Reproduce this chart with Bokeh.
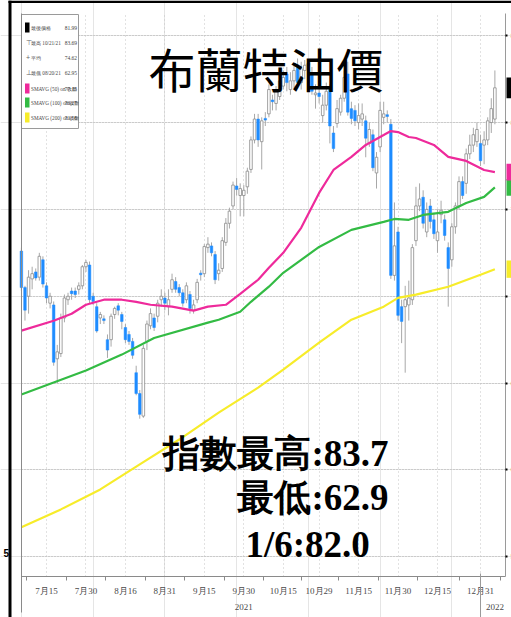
import pandas as pd
from bokeh.plotting import figure
from bokeh.models import (Range1d, LinearAxis, FixedTicker, Span, Grid,
                          ColumnDataSource)
from bokeh.core.properties import value
from bokeh.embed import file_html
from bokeh.resources import INLINE

# ---------------- data ----------------
dates = [d.strftime("%Y-%m-%d") for d in pd.bdate_range("2021-07-06", "2022-01-06")]

opens = [72.6, 70.5, 70.0, 71.0, 71.4, 71.1, 72.1, 70.6, 69.6, 69.5,
         66.4, 66.7, 68.75, 69.8, 70.3, 70.3, 70.4, 70.6, 71.7, 71.8,
         70.0, 69.4, 68.75, 68.7, 67.5, 67.5, 68.95, 69.45, 68.95, 68.2,
         67.8, 67.4, 65.6, 64.4, 63.1, 67.4, 68.3, 68.75, 68.85, 69.8,
         69.9, 69.4, 70.4, 70.85, 70.5, 70.2, 69.8, 70.1, 69.2, 69.8,
         71.33, 71.3, 72.8, 72.9, 72.4, 71.3, 71.6, 73.1, 74.2, 75.2,
         76.35, 75.8, 75.8, 76.3, 77.3, 79.0, 80.2, 78.9, 80.24, 80.5,
         81.3, 81.1, 81.5, 82.1, 82.8, 81.9, 82.4, 83.3, 82.3, 83.0,
         83.3, 82.8, 81.6, 81.7, 80.4, 81.0, 81.9, 79.4, 79.95, 80.6,
         81.4, 82.8, 80.8, 80.7, 80.0, 80.2, 80.1, 78.8, 79.3, 77.1,
         78.6, 80.3, 80.45, 79.9, 71.2, 73.7, 69.4, 69.4, 69.5, 69.8,
         73.2, 75.2, 75.7, 73.7, 75.2, 74.4, 73.2, 74.7, 74.4, 72.8,
         72.1, 74.0, 75.2, 76.6, 76.5, 78.2, 78.7, 78.9, 78.8, 78.7,
         79.0, 80.0, 80.2]
highs = [72.8, 70.6, 71.5, 71.7, 71.6, 72.5, 72.3, 70.8, 70.2, 69.7,
         67.2, 69.0, 70.1, 70.2, 70.5, 70.5, 70.8, 71.8, 72.1, 72.0,
         70.2, 69.6, 69.1, 68.9, 67.8, 69.0, 69.4, 69.6, 69.1, 68.4,
         68.0, 67.6, 66.0, 64.6, 67.2, 68.6, 69.3, 69.0, 69.8, 70.4,
         70.2, 70.4, 71.3, 71.1, 70.7, 70.4, 70.8, 70.3, 69.8, 71.0,
         71.5, 73.0, 73.4, 73.1, 72.6, 71.9, 73.4, 74.5, 75.1, 76.6,
         76.8, 76.5, 76.4, 77.4, 79.2, 80.5, 80.5, 80.3, 80.6, 82.2,
         81.6, 82.1, 82.7, 83.0, 83.2, 82.9, 83.3, 83.69, 83.5, 83.6,
         83.6, 83.2, 82.2, 82.4, 81.6, 82.3, 82.2, 79.8, 81.3, 81.6,
         83.0, 83.5, 81.2, 81.0, 81.1, 81.1, 80.4, 80.0, 79.6, 78.3,
         81.2, 81.2, 80.7, 80.2, 75.4, 74.0, 69.8, 70.6, 70.9, 73.0,
         76.3, 76.5, 76.1, 75.4, 75.6, 74.8, 75.0, 75.5, 74.7, 73.1,
         74.2, 75.4, 76.9, 76.9, 78.5, 79.3, 79.7, 80.0, 79.3, 79.5,
         80.3, 81.4, 83.0]
lows = [70.3, 68.6, 69.0, 70.4, 70.9, 70.9, 70.5, 69.6, 69.3, 66.0,
        65.0, 66.5, 68.5, 69.5, 69.8, 69.9, 70.1, 70.4, 71.4, 69.6,
        69.5, 67.9, 68.4, 68.4, 66.45, 67.1, 68.7, 68.9, 68.1, 67.3,
        67.2, 66.4, 64.3, 62.95, 63.0, 66.9, 68.1, 68.0, 68.5, 69.4,
        69.2, 68.9, 70.2, 70.2, 70.0, 69.4, 69.6, 69.0, 69.0, 69.6,
        70.9, 71.1, 72.5, 72.3, 70.7, 70.9, 71.4, 72.9, 73.9, 75.0,
        75.8, 74.6, 74.6, 75.9, 77.1, 78.8, 78.6, 77.3, 79.8, 80.3,
        80.7, 80.7, 81.3, 81.9, 81.8, 81.6, 82.0, 82.0, 81.9, 82.5,
        82.8, 81.6, 80.8, 81.1, 80.0, 80.7, 78.8, 78.3, 79.7, 80.4,
        81.2, 80.4, 79.9, 79.8, 79.6, 79.8, 78.0, 78.6, 77.2, 76.2,
        78.3, 79.9, 80.0, 71.0, 70.9, 68.6, 67.3, 65.6, 68.6, 69.5,
        72.9, 74.9, 73.9, 73.4, 73.9, 73.3, 72.5, 74.2, 73.2, 69.4,
        71.7, 73.6, 75.0, 75.6, 75.9, 77.9, 78.3, 78.6, 77.5, 77.6,
        78.7, 79.4, 79.9]
closes = [70.5, 69.2, 71.1, 71.3, 71.05, 72.3, 70.7, 69.9, 70.0, 66.2,
          66.8, 68.75, 69.9, 70.0, 70.15, 70.1, 70.6, 71.7, 71.95, 69.8,
          69.7, 68.0, 68.95, 68.6, 66.9, 68.85, 69.3, 69.2, 68.55, 67.5,
          67.4, 66.6, 64.4, 63.2, 67.0, 68.4, 69.0, 68.2, 69.6, 70.0,
          69.6, 69.8, 70.95, 70.4, 70.2, 69.6, 70.6, 69.3, 69.5, 70.8,
          71.24, 72.86, 73.0, 72.5, 70.95, 71.5, 73.2, 74.2, 74.9, 76.4,
          76.15, 76.2, 76.1, 77.2, 79.0, 80.2, 79.0, 80.1, 80.14, 81.9,
          81.2, 81.8, 82.4, 82.6, 82.3, 82.4, 83.0, 82.3, 83.1, 83.3,
          83.4, 81.8, 81.7, 81.5, 81.0, 81.8, 79.8, 78.5, 80.8, 81.4,
          82.6, 80.6, 80.24, 80.1, 80.4, 80.5, 79.1, 79.6, 77.4, 78.0,
          80.7, 80.5, 80.35, 71.2, 72.9, 68.9, 68.55, 69.8, 69.9, 72.8,
          75.2, 75.6, 74.2, 75.0, 74.3, 73.6, 73.7, 74.95, 73.5, 71.6,
          74.0, 75.2, 76.6, 75.8, 78.2, 78.7, 79.3, 79.6, 77.8, 79.0,
          80.1, 80.8, 82.0]

ma50_dates = ["2021-07-06", "2021-07-19", "2021-07-26", "2021-07-30", "2021-08-06",
              "2021-08-13", "2021-08-19", "2021-08-25", "2021-09-02", "2021-09-10",
              "2021-09-16", "2021-09-23", "2021-09-29", "2021-10-06", "2021-10-11",
              "2021-10-15", "2021-10-22", "2021-10-29", "2021-11-04", "2021-11-11",
              "2021-11-17", "2021-11-24", "2021-11-26", "2021-11-30", "2021-12-03",
              "2021-12-07", "2021-12-14", "2021-12-20", "2021-12-27", "2022-01-03",
              "2022-01-06"]
ma50_vals = [68.02, 68.59, 68.99, 69.51, 69.80, 69.80, 69.68, 69.51, 69.40, 69.17,
             69.40, 69.51, 70.14, 70.95, 71.64, 72.50, 73.94, 75.95, 77.27, 78.02,
             78.71, 79.28, 79.51, 79.45, 79.17, 79.11, 78.71, 78.02, 77.79, 77.27,
             77.15]

ma100_dates = ["2021-07-06", "2021-07-19", "2021-07-30", "2021-08-13", "2021-08-26",
               "2021-09-16", "2021-09-21", "2021-09-29", "2021-10-04", "2021-10-11",
               "2021-10-15", "2021-10-29", "2021-11-11", "2021-11-24", "2021-11-29",
               "2021-12-03", "2021-12-09", "2021-12-20", "2021-12-27", "2022-01-03",
               "2022-01-06"]
ma100_vals = [64.34, 65.03, 65.72, 66.64, 67.60, 68.48, 68.65, 69.11, 69.68, 70.55,
              71.35, 72.84, 73.82, 74.28, 74.45, 74.40, 74.68, 74.86, 75.37, 75.72,
              76.27]

ma200_dates = ["2021-07-06", "2021-07-21", "2021-08-05", "2021-08-20", "2021-09-06",
               "2021-09-21", "2021-10-06", "2021-10-15", "2021-10-29", "2021-11-11",
               "2021-11-24", "2021-11-30", "2021-12-07", "2021-12-20", "2021-12-31",
               "2022-01-06"]
ma200_vals = [56.70, 57.73, 58.88, 60.32, 61.75, 63.30, 64.74, 65.78, 67.33, 68.65,
              69.40, 69.91, 70.09, 70.55, 71.24, 71.56]

tick_dates = ["2021-07-15", "2021-07-30", "2021-08-16", "2021-08-31", "2021-09-15",
              "2021-09-30", "2021-10-15", "2021-10-29", "2021-11-15", "2021-11-30",
              "2021-12-15", "2021-12-31"]
tick_labels = ["7月15", "7月30", "8月16", "8月31", "9月15", "9月30", "10月15",
               "10月29", "11月15", "11月30", "12月15", "12月31"]
year_dates = ["2021-09-30", "2022-01-06"]
year_labels = ["2021", "2022"]
y_ticks = [55, 60, 65, 70, 75, 80, 85]

legend_labels = ["最後價格", "最高 10/21/21", "平均", "最低 08/20/21",
                 "SMAVG (50) on 收盤", "SMAVG (100) on 收盤", "SMAVG (200) on 收盤"]
legend_values = ["81.99", "83.69", "74.62", "62.95", "77.15", "76.27", "71.56"]

title_text = "布蘭特油價"
note_lines = ["指數最高:83.7", "最低:62.9", "1/6:82.0"]

# ---------------- geometry (page pixels -> data) ----------------
X_FIRST, DX = 20.891, 3.587          # page x of first candle, px per weekday
Y85, DY = 35.2, 17.37                # page y of the 85 line, px per unit
W, H = 511, 617


def ix(px):
    return (px - X_FIRST) / DX


def vy(py):
    return 85.0 - (py - Y85) / DY


MAGENTA, GREEN, YELLOW, BLUE = "#ee2a9b", "#33bb44", "#f7ec2a", "#1e8cff"
GREY = "#8a8a8a"
NARROW = "Liberation Sans Narrow"

p = figure(width=W, height=H, x_range=Range1d(ix(0), ix(W)),
           y_range=Range1d(vy(H), vy(0)), toolbar_location=None,
           output_backend="svg", title=None, min_border=0,
           x_axis_location=None, y_axis_location=None,
           outline_line_color=None, background_fill_color="white",
           border_fill_color="white")

pos = {d: k for k, d in enumerate(dates)}
tick_pos = [pos[d] for d in tick_dates]
minor = [tick_pos[0] - 5.5] + [(a + b) / 2 for a, b in zip(tick_pos[:-1], tick_pos[1:])] + [tick_pos[-1] + 5.5]

plot_left, plot_right = ix(20.5), ix(505)
plot_bottom, plot_top = vy(576), vy(13)

has_cb = "cross_bounds" in Grid.properties()
gkw_h = dict(cross_bounds=(plot_left, plot_right)) if has_cb else {}
gkw_v = dict(cross_bounds=(plot_bottom, plot_top)) if has_cb else {}
p.add_layout(Grid(dimension=1, ticker=FixedTicker(ticks=y_ticks), grid_line_color="#b0b0b0",
                  grid_line_dash="1 2", grid_line_width=1, **gkw_h))
p.add_layout(Grid(dimension=0, ticker=FixedTicker(ticks=tick_pos), grid_line_color="#c4c4c4",
                  grid_line_dash="1 3", grid_line_width=1, **gkw_v))

# bottom date axis
xa = LinearAxis(fixed_location=plot_bottom, bounds=(plot_left, plot_right),
                ticker=FixedTicker(ticks=tick_pos, minor_ticks=minor),
                major_label_overrides={k: s for k, s in zip(tick_pos, tick_labels)},
                axis_line_color=GREY, major_tick_in=0, major_tick_out=0,
                minor_tick_in=0, minor_tick_out=4, minor_tick_line_color=GREY,
                major_label_text_font=NARROW,
                major_label_text_font_size="9px", major_label_text_color="#4a4a4a",
                major_label_standoff=5)
p.add_layout(xa, "below")

year_pos = [pos[d] for d in year_dates]
ya_year = LinearAxis(fixed_location=plot_bottom, ticker=FixedTicker(ticks=year_pos),
                     major_label_overrides={k: s for k, s in zip(year_pos, year_labels)},
                     axis_line_color=None, major_tick_line_color=None,
                     minor_tick_line_color=None,
                     major_label_text_font=NARROW,
                     major_label_text_font_size="9px", major_label_text_color="#4a4a4a",
                     major_label_standoff=21)
p.add_layout(ya_year, "below")

sep = pos[tick_dates[-1]]
sep_axis = LinearAxis(fixed_location=vy(573), ticker=FixedTicker(ticks=[sep]),
                      major_label_overrides={sep: ""}, axis_line_color=None,
                      major_tick_in=0, major_tick_out=44, major_tick_line_color="#9a9a9a",
                      minor_tick_line_color=None)
p.add_layout(sep_axis, "below")

# left frame line
la = LinearAxis(fixed_location=plot_left, bounds=(vy(612), plot_top),
                ticker=FixedTicker(ticks=[]), axis_line_color=GREY)
p.add_layout(la, "left")

# right price axis (its labels run off the right edge, as in the source)
ra = LinearAxis(fixed_location=plot_right, bounds=(plot_bottom, plot_top),
                ticker=FixedTicker(ticks=y_ticks), axis_line_color="#9a9a9a",
                major_tick_in=0, major_tick_out=2, major_tick_line_color="black",
                major_tick_line_width=2, minor_tick_line_color=None,
                major_label_text_font_size="8px", major_label_text_color="#555555",
                major_label_standoff=3)
p.add_layout(ra, "right")

# black page border (left bar + top rule)
p.add_layout(Span(location=ix(9.5), dimension="height", line_color="black", line_width=3))
p.quad(left=[ix(8)], right=[ix(W)], top=[vy(0)], bottom=[vy(2.5)],
       fill_color="black", line_color=None)
p.text(x=[ix(8.5)], y=[vy(556)], text=["5"], text_font_size=value("10px"),
       text_color="black", text_align="right", text_font_style="bold")

# ---------------- candles ----------------
src = ColumnDataSource(dict(x=list(range(len(dates))), high=highs, low=lows))
up = dict(x=[], top=[], bottom=[])
dn = dict(x=[], top=[], bottom=[])
for k, (o, c) in enumerate(zip(opens, closes)):
    d = up if c >= o else dn
    d["x"].append(k)
    d["top"].append(max(o, c))
    d["bottom"].append(min(o, c))

p.segment(x0="x", y0="high", x1="x", y1="low", source=src, line_color="#a8a8a8", line_width=1)
p.vbar(x="x", width=0.72, top="top", bottom="bottom", source=ColumnDataSource(up),
       fill_color="white", line_color="#8c8c8c", line_width=0.8)
p.vbar(x="x", width=0.72, top="top", bottom="bottom", source=ColumnDataSource(dn),
       fill_color=BLUE, line_color=BLUE, line_width=0.5)

# ---------------- moving averages ----------------
for ds, vs, col in [(ma200_dates, ma200_vals, YELLOW), (ma100_dates, ma100_vals, GREEN),
                    (ma50_dates, ma50_vals, MAGENTA)]:
    p.line(x=[pos[d] for d in ds], y=vs, line_color=col, line_width=2.2)

# right-edge value tags
tag_vals = [ma200_vals[-1], ma100_vals[-1], ma50_vals[-1], closes[-1]]
tag_cols = [YELLOW, GREEN, MAGENTA, "black"]
tag_h = [0.5, 0.48, 0.48, 0.6]
p.quad(left=[ix(506)] * 4, right=[ix(530)] * 4,
       top=[v + h for v, h in zip(tag_vals, tag_h)],
       bottom=[v - h for v, h in zip(tag_vals, tag_h)],
       fill_color=tag_cols, line_color=None)

# ---------------- legend box ----------------
p.quad(left=[ix(21)], right=[ix(78)], top=[vy(14)], bottom=[vy(128)],
       fill_color="white", line_color="#9a9a9a", line_width=1)
row_y = [27, 42, 57, 72, 88, 102, 117]
mark_cols = ["black", None, None, None, MAGENTA, GREEN, YELLOW]
mk = [(ix(24.5), ix(29), vy(y - 5), vy(y + 5), c) for y, c in zip(row_y, mark_cols) if c]
p.quad(left=[m[0] for m in mk], right=[m[1] for m in mk], top=[m[2] for m in mk],
       bottom=[m[3] for m in mk], fill_color=[m[4] for m in mk], line_color=None)
p.text(x=[ix(25.5)] * 3, y=[vy(y) for y in row_y[1:4]], text=["⊤", "+", "⊥"],
       text_font_size=value("7px"), text_color="#666666", text_baseline="middle")
p.text(x=[ix(30.5)] * 7, y=[vy(y) for y in row_y], text=legend_labels,
       text_font=value(NARROW), text_font_size=value("5.2px"),
       text_color="#444444", text_baseline="middle")
p.text(x=[ix(76.5)] * 7, y=[vy(y) for y in row_y], text=legend_values,
       text_font=value(NARROW), text_font_size=value("5.5px"),
       text_color="#444444", text_baseline="middle", text_align="right")

# ---------------- overlay texts ----------------
# (baselines compensated for the large CJK ascent used when the text is laid out)
p.text(x=[ix(148)], y=[vy(66.5)], text=[title_text], text_font=value("Noto Sans CJK TC"),
       text_font_size=value("47px"), text_color="black", text_baseline="alphabetic")
p.text(x=[ix(388), ix(388)], y=[vy(453), vy(497)], text=note_lines[:2],
       text_font=value("Liberation Serif"), text_font_style="bold",
       text_font_size=value("37px"), text_color="black", text_align="right",
       text_baseline="alphabetic")
p.text(x=[ix(245)], y=[vy(544)], text=note_lines[2:],
       text_font=value("Liberation Serif"), text_font_style="bold",
       text_font_size=value("37px"), text_color="black", text_align="left",
       text_baseline="alphabetic")

open("out.html", "w").write(file_html(p, INLINE))
